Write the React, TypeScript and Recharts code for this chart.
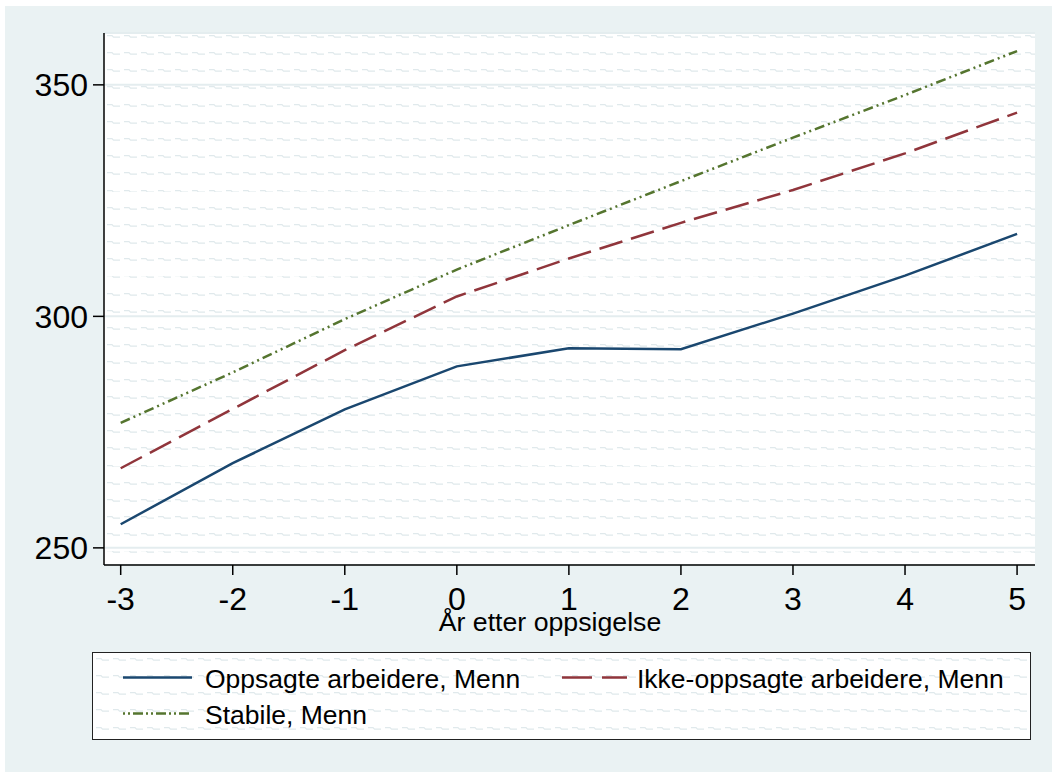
import React from 'react';
import { LineChart, Line, XAxis, YAxis, CartesianGrid } from 'recharts';

// years relative to layoff
const years = [-3, -2, -1, 0, 1, 2, 3, 4, 5];

// series values
const oppsagte = [255.1, 268.3, 279.9, 289.2, 293.1, 292.9, 300.6, 308.8, 317.8];
const ikkeOppsagte = [267.2, 280.0, 292.7, 304.3, 312.5, 320.2, 327.3, 335.2, 344.0];
const stabile = [277.0, 287.9, 299.4, 310.1, 319.7, 329.2, 338.6, 347.8, 357.3];

const xTicks = [-3, -2, -1, 0, 1, 2, 3, 4, 5];
const yTicks = [250, 300, 350];

const seriesNames = ['Oppsagte arbeidere, Menn', 'Ikke-oppsagte arbeidere, Menn', 'Stabile, Menn'];

const data = years.map((year, i) => ({
  year,
  oppsagte: oppsagte[i],
  ikke: ikkeOppsagte[i],
  stabile: stabile[i],
}));

const series = [
  { key: 'oppsagte', name: seriesNames[0], color: '#1A476F', dash: undefined, legendDash: undefined },
  { key: 'ikke', name: seriesNames[1], color: '#90353B', dash: '24 9', legendDash: '30 10' },
  { key: 'stabile', name: seriesNames[2], color: '#55752F', dash: '10 4 2 4 2 4', legendDash: '2 3 2 3 10 3' },
];

const FONT = '"Liberation Sans", Arial, Helvetica, sans-serif';
const BG = '#EAF2F3';

const waveSvg =
  "<svg xmlns='http://www.w3.org/2000/svg' width='17' height='17.2'>" +
  "<path d='M3 2.5 H8 L9.5 4 H16' stroke='%23E0E9EC' stroke-width='1.3' fill='none'/></svg>";
const wave = `url("data:image/svg+xml;utf8,${waveSvg}")`;

const PLOT = { left: 104, top: 33, right: 1035, bottom: 565 };

const LegendBox: React.FC = () => {
  const cols = [
    { swatch: [123, 192], text: 205 },
    { swatch: [562, 627], text: 637 },
  ];
  const rows = [688, 724];
  return (
    <div
      style={{
        position: 'absolute',
        left: 92,
        top: 652,
        width: 939,
        height: 88,
        boxSizing: 'border-box',
        border: '1.5px solid #222',
        background: `#fff ${wave}`,
        backgroundPosition: '0px 3px',
      }}
    >
      <svg width={939} height={88} style={{ position: 'absolute', left: -1.5, top: -1.5 }}>
        {series.map((s, i) => {
          const col = i === 1 ? cols[1] : cols[0];
          const base = rows[i === 2 ? 1 : 0] - 652;
          return (
            <g key={s.key}>
              <line
                x1={col.swatch[0] - 92}
                x2={col.swatch[1] - 92}
                y1={base - 10.5}
                y2={base - 10.5}
                stroke={s.color}
                strokeWidth={2.5}
                strokeDasharray={s.legendDash}
              />
              <text x={col.text - 92} y={base} fontSize={26.5} fontFamily={FONT} fill="#000">
                {s.name}
              </text>
            </g>
          );
        })}
      </svg>
    </div>
  );
};

const App: React.FC = () => {
  return (
    <div style={{ position: 'absolute', left: 0, top: 0, width: 1052, height: 772, background: '#fff', fontFamily: FONT }}>
      <div style={{ position: 'absolute', left: 5, top: 6, right: 0, bottom: 0, background: BG }} />
      <div
        style={{
          position: 'absolute',
          left: PLOT.left,
          top: PLOT.top,
          width: PLOT.right - PLOT.left,
          height: PLOT.bottom - PLOT.top,
          background: `#fff ${wave}`,
          backgroundPosition: '0px 0px',
        }}
      />
      <LineChart
        width={1052}
        height={772}
        data={data}
        margin={{ top: 33, left: 8, right: 17, bottom: 147 }}
        style={{ position: 'absolute', left: 0, top: 0 }}
      >
        <CartesianGrid vertical={false} stroke="#E4EDEF" strokeWidth={2} />
        <XAxis
          dataKey="year"
          type="number"
          domain={[-3.149, 5.16]}
          ticks={xTicks}
          allowDataOverflow
          height={60}
          tickSize={10}
          tickMargin={12}
          stroke="#000"
          strokeWidth={1.5}
          tick={{ fill: '#000', fontSize: 32, fontFamily: FONT }}
          interval={0}
        />
        <YAxis
          type="number"
          domain={[246.3, 361.2]}
          ticks={yTicks}
          allowDataOverflow
          width={96}
          tickSize={11}
          tickMargin={5}
          stroke="#000"
          strokeWidth={1.5}
          tick={{ fill: '#000', fontSize: 32, fontFamily: FONT }}
        />
        {series.map((s) => (
          <Line
            key={s.key}
            dataKey={s.key}
            name={s.name}
            stroke={s.color}
            strokeWidth={2.5}
            strokeDasharray={s.dash}
            dot={false}
            activeDot={false}
            isAnimationActive={false}
          />
        ))}
      </LineChart>
      <div
        style={{
          position: 'absolute',
          left: 350,
          width: 400,
          top: 609,
          textAlign: 'center',
          fontSize: 26.7,
          lineHeight: '27px',
          color: '#000',
        }}
      >
        År etter oppsigelse
      </div>
      <LegendBox />
    </div>
  );
};

export default App;
